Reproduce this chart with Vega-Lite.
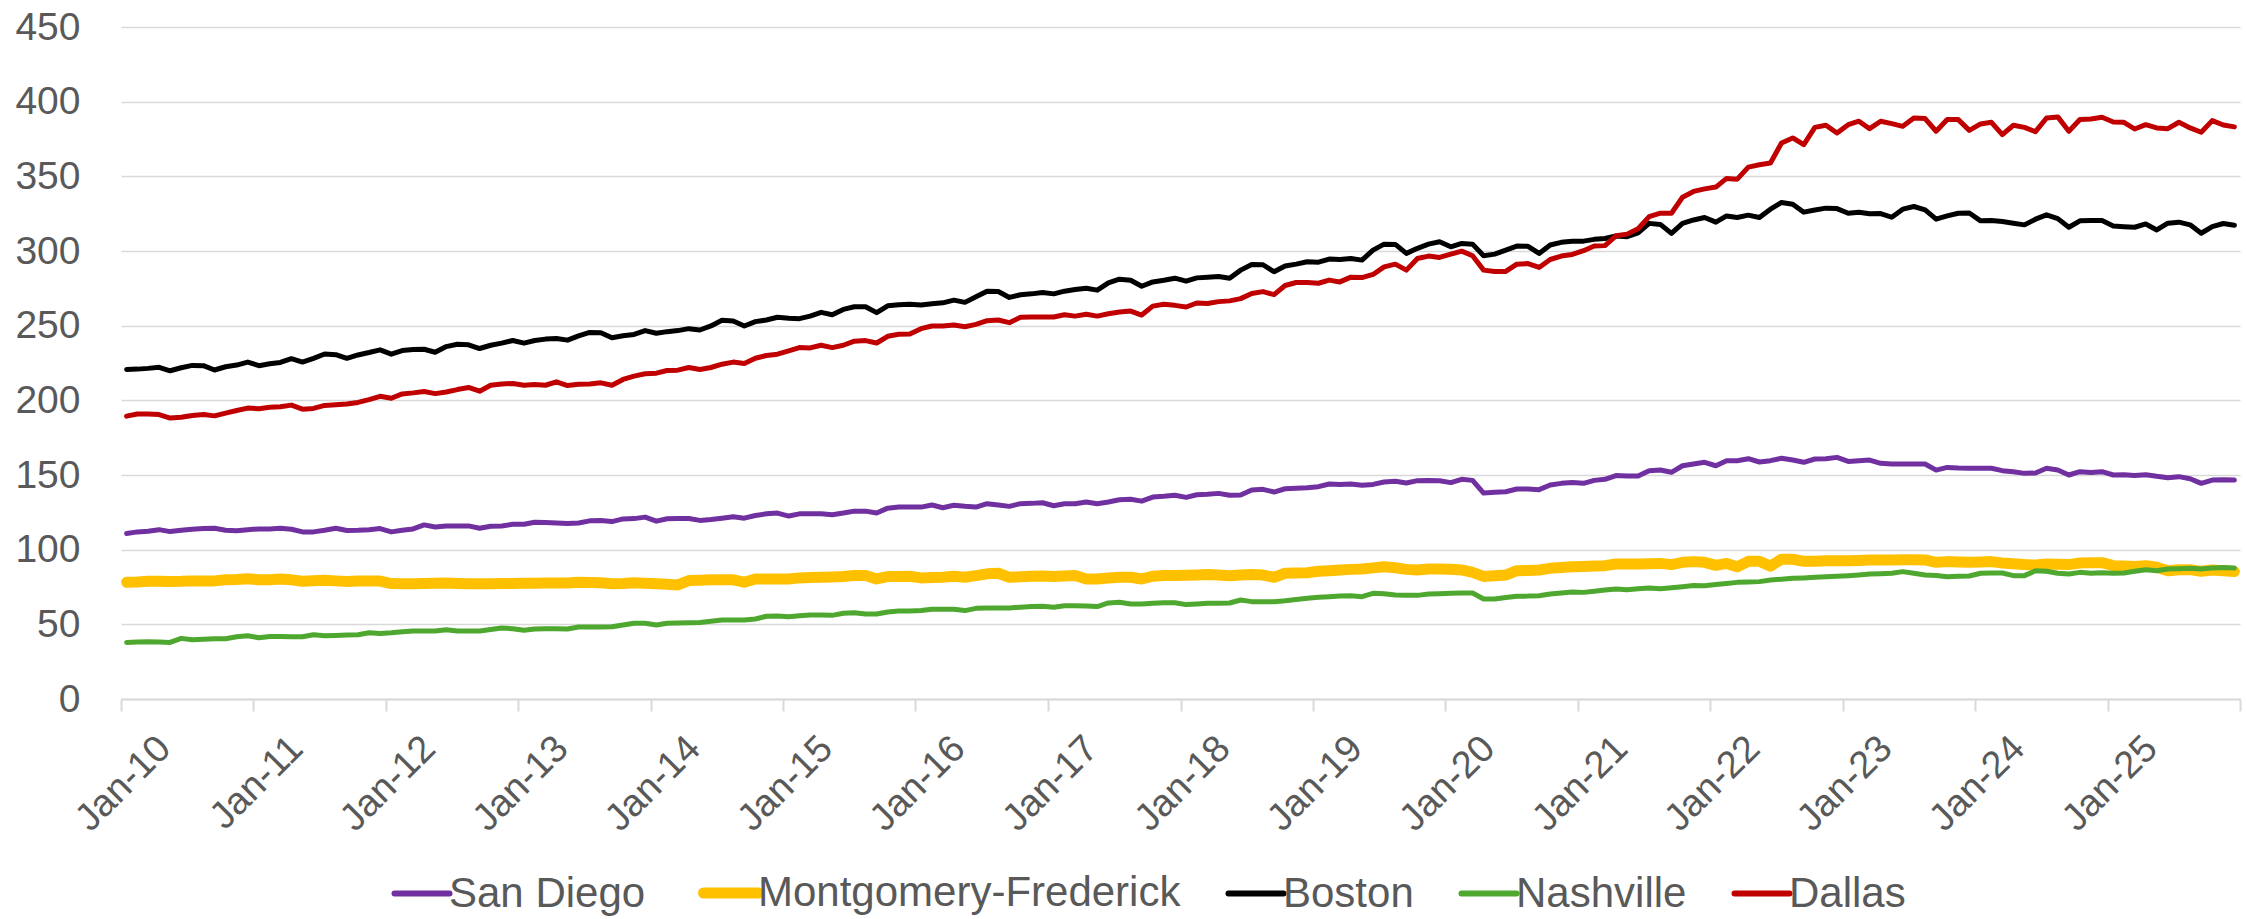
{
"$schema":"https://vega.github.io/schema/vega-lite/v6.json",
"width":2119,"height":672,
"autosize":{"type":"none"},
"padding":{"left":121,"top":27,"right":6,"bottom":220},
"background":"white",
"config":{"view":{"stroke":null},"font":"Liberation Sans"},
"datasets":{
"sd":[{"d":"2010-01","v":110.8},{"d":"2010-02","v":111.9},{"d":"2010-03","v":112.3},{"d":"2010-04","v":113.4},{"d":"2010-05","v":112.1},{"d":"2010-06","v":113},{"d":"2010-07","v":113.7},{"d":"2010-08","v":114.1},{"d":"2010-09","v":114.3},{"d":"2010-10","v":113},{"d":"2010-11","v":112.6},{"d":"2010-12","v":113.4},
{"d":"2011-01","v":113.9},{"d":"2011-02","v":113.9},{"d":"2011-03","v":114.3},{"d":"2011-04","v":113.7},{"d":"2011-05","v":111.9},{"d":"2011-06","v":111.9},{"d":"2011-07","v":113},{"d":"2011-08","v":114.3},{"d":"2011-09","v":112.8},{"d":"2011-10","v":113},{"d":"2011-11","v":113.4},{"d":"2011-12","v":114.1},
{"d":"2012-01","v":111.9},{"d":"2012-02","v":113},{"d":"2012-03","v":113.9},{"d":"2012-04","v":116.6},{"d":"2012-05","v":115.2},{"d":"2012-06","v":115.9},{"d":"2012-07","v":115.9},{"d":"2012-08","v":115.9},{"d":"2012-09","v":114.3},{"d":"2012-10","v":115.7},{"d":"2012-11","v":115.9},{"d":"2012-12","v":117},
{"d":"2013-01","v":117},{"d":"2013-02","v":118.4},{"d":"2013-03","v":118.2},{"d":"2013-04","v":117.9},{"d":"2013-05","v":117.5},{"d":"2013-06","v":117.9},{"d":"2013-07","v":119.3},{"d":"2013-08","v":119.5},{"d":"2013-09","v":118.8},{"d":"2013-10","v":120.6},{"d":"2013-11","v":120.8},{"d":"2013-12","v":121.8},
{"d":"2014-01","v":119.1},{"d":"2014-02","v":120.7},{"d":"2014-03","v":120.9},{"d":"2014-04","v":120.9},{"d":"2014-05","v":119.6},{"d":"2014-06","v":120.2},{"d":"2014-07","v":121.1},{"d":"2014-08","v":122},{"d":"2014-09","v":121.1},{"d":"2014-10","v":122.9},{"d":"2014-11","v":124},{"d":"2014-12","v":124.5},
{"d":"2015-01","v":122.5},{"d":"2015-02","v":124},{"d":"2015-03","v":124},{"d":"2015-04","v":124},{"d":"2015-05","v":123.4},{"d":"2015-06","v":124.5},{"d":"2015-07","v":125.8},{"d":"2015-08","v":125.8},{"d":"2015-09","v":124.5},{"d":"2015-10","v":127.8},{"d":"2015-11","v":128.5},{"d":"2015-12","v":128.5},
{"d":"2016-01","v":128.5},{"d":"2016-02","v":129.9},{"d":"2016-03","v":128.1},{"d":"2016-04","v":129.7},{"d":"2016-05","v":129},{"d":"2016-06","v":128.5},{"d":"2016-07","v":130.8},{"d":"2016-08","v":129.9},{"d":"2016-09","v":129},{"d":"2016-10","v":130.8},{"d":"2016-11","v":131},{"d":"2016-12","v":131.4},
{"d":"2017-01","v":129.4},{"d":"2017-02","v":130.8},{"d":"2017-03","v":130.8},{"d":"2017-04","v":131.9},{"d":"2017-05","v":130.8},{"d":"2017-06","v":131.9},{"d":"2017-07","v":133.4},{"d":"2017-08","v":133.7},{"d":"2017-09","v":132.5},{"d":"2017-10","v":135.2},{"d":"2017-11","v":135.7},{"d":"2017-12","v":136.4},
{"d":"2018-01","v":135},{"d":"2018-02","v":136.8},{"d":"2018-03","v":137.1},{"d":"2018-04","v":137.7},{"d":"2018-05","v":136.4},{"d":"2018-06","v":136.6},{"d":"2018-07","v":140},{"d":"2018-08","v":140.4},{"d":"2018-09","v":138.6},{"d":"2018-10","v":140.8},{"d":"2018-11","v":141.1},{"d":"2018-12","v":141.5},
{"d":"2019-01","v":142.2},{"d":"2019-02","v":144},{"d":"2019-03","v":143.7},{"d":"2019-04","v":144},{"d":"2019-05","v":143.1},{"d":"2019-06","v":143.7},{"d":"2019-07","v":145.3},{"d":"2019-08","v":145.8},{"d":"2019-09","v":144.6},{"d":"2019-10","v":146.2},{"d":"2019-11","v":146.4},{"d":"2019-12","v":146.2},
{"d":"2020-01","v":144.9},{"d":"2020-02","v":147.1},{"d":"2020-03","v":146.4},{"d":"2020-04","v":137.9},{"d":"2020-05","v":138.4},{"d":"2020-06","v":138.8},{"d":"2020-07","v":140.6},{"d":"2020-08","v":140.6},{"d":"2020-09","v":140.2},{"d":"2020-10","v":143.3},{"d":"2020-11","v":144.4},{"d":"2020-12","v":144.9},
{"d":"2021-01","v":144.4},{"d":"2021-02","v":146.4},{"d":"2021-03","v":147.1},{"d":"2021-04","v":149.6},{"d":"2021-05","v":149.3},{"d":"2021-06","v":149.3},{"d":"2021-07","v":152.9},{"d":"2021-08","v":153.3},{"d":"2021-09","v":151.8},{"d":"2021-10","v":156.2},{"d":"2021-11","v":157.4},{"d":"2021-12","v":158.5},
{"d":"2022-01","v":156.2},{"d":"2022-02","v":159.6},{"d":"2022-03","v":159.6},{"d":"2022-04","v":160.9},{"d":"2022-05","v":158.7},{"d":"2022-06","v":159.6},{"d":"2022-07","v":161.2},{"d":"2022-08","v":160},{"d":"2022-09","v":158.5},{"d":"2022-10","v":160.7},{"d":"2022-11","v":160.9},{"d":"2022-12","v":161.8},
{"d":"2023-01","v":159.1},{"d":"2023-02","v":159.6},{"d":"2023-03","v":160},{"d":"2023-04","v":157.8},{"d":"2023-05","v":157.4},{"d":"2023-06","v":157.4},{"d":"2023-07","v":157.4},{"d":"2023-08","v":157.4},{"d":"2023-09","v":153.3},{"d":"2023-10","v":155.1},{"d":"2023-11","v":154.7},{"d":"2023-12","v":154.5},
{"d":"2024-01","v":154.5},{"d":"2024-02","v":154.5},{"d":"2024-03","v":152.9},{"d":"2024-04","v":152.2},{"d":"2024-05","v":151.1},{"d":"2024-06","v":151.3},{"d":"2024-07","v":154.5},{"d":"2024-08","v":153.3},{"d":"2024-09","v":150},{"d":"2024-10","v":152.2},{"d":"2024-11","v":151.6},{"d":"2024-12","v":152.2},
{"d":"2025-01","v":150},{"d":"2025-02","v":150.2},{"d":"2025-03","v":149.6},{"d":"2025-04","v":150.2},{"d":"2025-05","v":149.1},{"d":"2025-06","v":148.2},{"d":"2025-07","v":148.9},{"d":"2025-08","v":147.5},{"d":"2025-09","v":144.4},{"d":"2025-10","v":146.6},{"d":"2025-11","v":146.9},{"d":"2025-12","v":146.6}],
"mf":[{"d":"2010-01","v":78.2},{"d":"2010-02","v":78.4},{"d":"2010-03","v":78.9},{"d":"2010-04","v":78.9},{"d":"2010-05","v":78.7},{"d":"2010-06","v":78.8},{"d":"2010-07","v":79.1},{"d":"2010-08","v":79.1},{"d":"2010-09","v":79.1},{"d":"2010-10","v":79.8},{"d":"2010-11","v":80},{"d":"2010-12","v":80.5},
{"d":"2011-01","v":79.8},{"d":"2011-02","v":79.9},{"d":"2011-03","v":80.3},{"d":"2011-04","v":79.8},{"d":"2011-05","v":78.8},{"d":"2011-06","v":79.2},{"d":"2011-07","v":79.5},{"d":"2011-08","v":79.1},{"d":"2011-09","v":78.7},{"d":"2011-10","v":79},{"d":"2011-11","v":79},{"d":"2011-12","v":79},
{"d":"2012-01","v":77.3},{"d":"2012-02","v":77.1},{"d":"2012-03","v":77.2},{"d":"2012-04","v":77.3},{"d":"2012-05","v":77.5},{"d":"2012-06","v":77.6},{"d":"2012-07","v":77.4},{"d":"2012-08","v":77.2},{"d":"2012-09","v":77.1},{"d":"2012-10","v":77.2},{"d":"2012-11","v":77.3},{"d":"2012-12","v":77.4},
{"d":"2013-01","v":77.5},{"d":"2013-02","v":77.5},{"d":"2013-03","v":77.6},{"d":"2013-04","v":77.6},{"d":"2013-05","v":77.7},{"d":"2013-06","v":78.2},{"d":"2013-07","v":78},{"d":"2013-08","v":77.8},{"d":"2013-09","v":77.2},{"d":"2013-10","v":77.4},{"d":"2013-11","v":77.8},{"d":"2013-12","v":77.5},
{"d":"2014-01","v":77.1},{"d":"2014-02","v":76.8},{"d":"2014-03","v":76.4},{"d":"2014-04","v":79.3},{"d":"2014-05","v":79.5},{"d":"2014-06","v":79.8},{"d":"2014-07","v":79.8},{"d":"2014-08","v":79.8},{"d":"2014-09","v":78.2},{"d":"2014-10","v":80.4},{"d":"2014-11","v":80.4},{"d":"2014-12","v":80.4},
{"d":"2015-01","v":80.4},{"d":"2015-02","v":81.1},{"d":"2015-03","v":81.3},{"d":"2015-04","v":81.5},{"d":"2015-05","v":81.7},{"d":"2015-06","v":82},{"d":"2015-07","v":82.7},{"d":"2015-08","v":82.7},{"d":"2015-09","v":80.4},{"d":"2015-10","v":82},{"d":"2015-11","v":82.1},{"d":"2015-12","v":82.2},
{"d":"2016-01","v":81.1},{"d":"2016-02","v":81.3},{"d":"2016-03","v":81.5},{"d":"2016-04","v":82.2},{"d":"2016-05","v":81.5},{"d":"2016-06","v":82.6},{"d":"2016-07","v":83.8},{"d":"2016-08","v":84.2},{"d":"2016-09","v":81.5},{"d":"2016-10","v":81.8},{"d":"2016-11","v":82.2},{"d":"2016-12","v":82.4},
{"d":"2017-01","v":82},{"d":"2017-02","v":82.3},{"d":"2017-03","v":82.7},{"d":"2017-04","v":80.4},{"d":"2017-05","v":80.4},{"d":"2017-06","v":81},{"d":"2017-07","v":81.5},{"d":"2017-08","v":81.5},{"d":"2017-09","v":80.4},{"d":"2017-10","v":82.2},{"d":"2017-11","v":82.7},{"d":"2017-12","v":82.7},
{"d":"2018-01","v":82.8},{"d":"2018-02","v":83},{"d":"2018-03","v":83.3},{"d":"2018-04","v":83},{"d":"2018-05","v":82.6},{"d":"2018-06","v":83},{"d":"2018-07","v":83.3},{"d":"2018-08","v":83},{"d":"2018-09","v":81.5},{"d":"2018-10","v":84.2},{"d":"2018-11","v":84.4},{"d":"2018-12","v":84.6},
{"d":"2019-01","v":85.5},{"d":"2019-02","v":85.9},{"d":"2019-03","v":86.4},{"d":"2019-04","v":86.8},{"d":"2019-05","v":87.1},{"d":"2019-06","v":87.8},{"d":"2019-07","v":88.6},{"d":"2019-08","v":87.9},{"d":"2019-09","v":86.8},{"d":"2019-10","v":86.4},{"d":"2019-11","v":87.1},{"d":"2019-12","v":87},
{"d":"2020-01","v":86.9},{"d":"2020-02","v":86.4},{"d":"2020-03","v":84.8},{"d":"2020-04","v":82.1},{"d":"2020-05","v":82.6},{"d":"2020-06","v":83},{"d":"2020-07","v":85.9},{"d":"2020-08","v":86.1},{"d":"2020-09","v":86.4},{"d":"2020-10","v":87.5},{"d":"2020-11","v":88},{"d":"2020-12","v":88.6},
{"d":"2021-01","v":88.8},{"d":"2021-02","v":89},{"d":"2021-03","v":89.3},{"d":"2021-04","v":90.4},{"d":"2021-05","v":90.4},{"d":"2021-06","v":90.4},{"d":"2021-07","v":90.6},{"d":"2021-08","v":90.8},{"d":"2021-09","v":90},{"d":"2021-10","v":91.5},{"d":"2021-11","v":92},{"d":"2021-12","v":91.5},
{"d":"2022-01","v":89.5},{"d":"2022-02","v":90.8},{"d":"2022-03","v":88.5},{"d":"2022-04","v":92.2},{"d":"2022-05","v":92.2},{"d":"2022-06","v":89},{"d":"2022-07","v":93.6},{"d":"2022-08","v":93.6},{"d":"2022-09","v":92.2},{"d":"2022-10","v":92.2},{"d":"2022-11","v":92.6},{"d":"2022-12","v":92.6},
{"d":"2023-01","v":92.6},{"d":"2023-02","v":92.8},{"d":"2023-03","v":93.1},{"d":"2023-04","v":93.1},{"d":"2023-05","v":93.1},{"d":"2023-06","v":93.2},{"d":"2023-07","v":93.3},{"d":"2023-08","v":93.1},{"d":"2023-09","v":91.5},{"d":"2023-10","v":92},{"d":"2023-11","v":91.8},{"d":"2023-12","v":91.5},
{"d":"2024-01","v":91.7},{"d":"2024-02","v":92},{"d":"2024-03","v":91.1},{"d":"2024-04","v":90.6},{"d":"2024-05","v":90},{"d":"2024-06","v":89.7},{"d":"2024-07","v":90.4},{"d":"2024-08","v":90.2},{"d":"2024-09","v":90},{"d":"2024-10","v":91.1},{"d":"2024-11","v":91.2},{"d":"2024-12","v":91.3},
{"d":"2025-01","v":89.3},{"d":"2025-02","v":89},{"d":"2025-03","v":88.8},{"d":"2025-04","v":89.3},{"d":"2025-05","v":88.2},{"d":"2025-06","v":85.9},{"d":"2025-07","v":86.6},{"d":"2025-08","v":86.6},{"d":"2025-09","v":85.5},{"d":"2025-10","v":86.4},{"d":"2025-11","v":85.9},{"d":"2025-12","v":85.3}],
"bo":[{"d":"2010-01","v":220.7},{"d":"2010-02","v":220.9},{"d":"2010-03","v":221.4},{"d":"2010-04","v":222.1},{"d":"2010-05","v":219.8},{"d":"2010-06","v":221.8},{"d":"2010-07","v":223.4},{"d":"2010-08","v":223.2},{"d":"2010-09","v":220.3},{"d":"2010-10","v":222.5},{"d":"2010-11","v":223.6},{"d":"2010-12","v":225.6},
{"d":"2011-01","v":223.2},{"d":"2011-02","v":224.5},{"d":"2011-03","v":225.4},{"d":"2011-04","v":227.9},{"d":"2011-05","v":225.6},{"d":"2011-06","v":228.1},{"d":"2011-07","v":231},{"d":"2011-08","v":230.6},{"d":"2011-09","v":228.1},{"d":"2011-10","v":230.4},{"d":"2011-11","v":232},{"d":"2011-12","v":233.8},
{"d":"2012-01","v":230.9},{"d":"2012-02","v":233.3},{"d":"2012-03","v":234},{"d":"2012-04","v":234.2},{"d":"2012-05","v":232.2},{"d":"2012-06","v":236},{"d":"2012-07","v":237.6},{"d":"2012-08","v":237.2},{"d":"2012-09","v":234.7},{"d":"2012-10","v":236.9},{"d":"2012-11","v":238.3},{"d":"2012-12","v":240.1},
{"d":"2013-01","v":238.3},{"d":"2013-02","v":240.1},{"d":"2013-03","v":241},{"d":"2013-04","v":241.4},{"d":"2013-05","v":240.3},{"d":"2013-06","v":243.2},{"d":"2013-07","v":245.5},{"d":"2013-08","v":245.3},{"d":"2013-09","v":241.9},{"d":"2013-10","v":243.2},{"d":"2013-11","v":244.1},{"d":"2013-12","v":246.7},
{"d":"2014-01","v":244.9},{"d":"2014-02","v":246},{"d":"2014-03","v":246.7},{"d":"2014-04","v":248},{"d":"2014-05","v":247.1},{"d":"2014-06","v":249.8},{"d":"2014-07","v":253.6},{"d":"2014-08","v":253.1},{"d":"2014-09","v":249.8},{"d":"2014-10","v":252.7},{"d":"2014-11","v":253.8},{"d":"2014-12","v":255.6},
{"d":"2015-01","v":254.9},{"d":"2015-02","v":254.7},{"d":"2015-03","v":256.4},{"d":"2015-04","v":258.9},{"d":"2015-05","v":257.3},{"d":"2015-06","v":260.9},{"d":"2015-07","v":262.7},{"d":"2015-08","v":262.7},{"d":"2015-09","v":258.7},{"d":"2015-10","v":263.3},{"d":"2015-11","v":264},{"d":"2015-12","v":264.4},
{"d":"2016-01","v":263.8},{"d":"2016-02","v":264.7},{"d":"2016-03","v":265.3},{"d":"2016-04","v":267.1},{"d":"2016-05","v":265.6},{"d":"2016-06","v":269.3},{"d":"2016-07","v":273.1},{"d":"2016-08","v":272.9},{"d":"2016-09","v":268.9},{"d":"2016-10","v":270.7},{"d":"2016-11","v":271.3},{"d":"2016-12","v":272.2},
{"d":"2017-01","v":271.3},{"d":"2017-02","v":273.1},{"d":"2017-03","v":274.2},{"d":"2017-04","v":275.1},{"d":"2017-05","v":273.8},{"d":"2017-06","v":278.7},{"d":"2017-07","v":281.1},{"d":"2017-08","v":280.4},{"d":"2017-09","v":276.4},{"d":"2017-10","v":279.3},{"d":"2017-11","v":280.4},{"d":"2017-12","v":281.8},
{"d":"2018-01","v":279.8},{"d":"2018-02","v":282},{"d":"2018-03","v":282.5},{"d":"2018-04","v":282.9},{"d":"2018-05","v":281.8},{"d":"2018-06","v":287.2},{"d":"2018-07","v":291},{"d":"2018-08","v":290.8},{"d":"2018-09","v":286.1},{"d":"2018-10","v":289.9},{"d":"2018-11","v":291.2},{"d":"2018-12","v":292.8},
{"d":"2019-01","v":292.5},{"d":"2019-02","v":294.6},{"d":"2019-03","v":294.3},{"d":"2019-04","v":295},{"d":"2019-05","v":293.9},{"d":"2019-06","v":300.6},{"d":"2019-07","v":304.6},{"d":"2019-08","v":304.4},{"d":"2019-09","v":298.4},{"d":"2019-10","v":301.8},{"d":"2019-11","v":304.6},{"d":"2019-12","v":306.2},
{"d":"2020-01","v":302.8},{"d":"2020-02","v":305.1},{"d":"2020-03","v":304.6},{"d":"2020-04","v":296.8},{"d":"2020-05","v":297.9},{"d":"2020-06","v":300.6},{"d":"2020-07","v":303.3},{"d":"2020-08","v":303.1},{"d":"2020-09","v":298.4},{"d":"2020-10","v":304},{"d":"2020-11","v":305.8},{"d":"2020-12","v":306.6},
{"d":"2021-01","v":306.6},{"d":"2021-02","v":307.8},{"d":"2021-03","v":308.4},{"d":"2021-04","v":310},{"d":"2021-05","v":309.6},{"d":"2021-06","v":312.2},{"d":"2021-07","v":318.5},{"d":"2021-08","v":317.8},{"d":"2021-09","v":311.8},{"d":"2021-10","v":318.5},{"d":"2021-11","v":320.8},{"d":"2021-12","v":322.4},
{"d":"2022-01","v":319.3},{"d":"2022-02","v":323.5},{"d":"2022-03","v":322.4},{"d":"2022-04","v":324},{"d":"2022-05","v":322.4},{"d":"2022-06","v":328},{"d":"2022-07","v":332.5},{"d":"2022-08","v":331.3},{"d":"2022-09","v":326},{"d":"2022-10","v":327.5},{"d":"2022-11","v":328.7},{"d":"2022-12","v":328.4},
{"d":"2023-01","v":325.3},{"d":"2023-02","v":326},{"d":"2023-03","v":324.9},{"d":"2023-04","v":325.1},{"d":"2023-05","v":322.6},{"d":"2023-06","v":328},{"d":"2023-07","v":329.8},{"d":"2023-08","v":327.5},{"d":"2023-09","v":321.3},{"d":"2023-10","v":323.5},{"d":"2023-11","v":325.3},{"d":"2023-12","v":325.5},
{"d":"2024-01","v":320.2},{"d":"2024-02","v":320.4},{"d":"2024-03","v":319.7},{"d":"2024-04","v":318.6},{"d":"2024-05","v":317.5},{"d":"2024-06","v":321.3},{"d":"2024-07","v":324.2},{"d":"2024-08","v":321.7},{"d":"2024-09","v":315.9},{"d":"2024-10","v":320.2},{"d":"2024-11","v":320.4},{"d":"2024-12","v":320.4},
{"d":"2025-01","v":316.8},{"d":"2025-02","v":316.3},{"d":"2025-03","v":315.9},{"d":"2025-04","v":318.1},{"d":"2025-05","v":314.1},{"d":"2025-06","v":318.6},{"d":"2025-07","v":319.3},{"d":"2025-08","v":317.5},{"d":"2025-09","v":311.9},{"d":"2025-10","v":316.3},{"d":"2025-11","v":318.4},{"d":"2025-12","v":317.2}],
"na":[{"d":"2010-01","v":37.9},{"d":"2010-02","v":38.1},{"d":"2010-03","v":38.3},{"d":"2010-04","v":38.1},{"d":"2010-05","v":37.9},{"d":"2010-06","v":40.6},{"d":"2010-07","v":39.7},{"d":"2010-08","v":40},{"d":"2010-09","v":40.4},{"d":"2010-10","v":40.4},{"d":"2010-11","v":41.7},{"d":"2010-12","v":42.4},
{"d":"2011-01","v":41},{"d":"2011-02","v":41.9},{"d":"2011-03","v":41.8},{"d":"2011-04","v":41.7},{"d":"2011-05","v":41.7},{"d":"2011-06","v":43},{"d":"2011-07","v":42.4},{"d":"2011-08","v":42.6},{"d":"2011-09","v":42.8},{"d":"2011-10","v":43},{"d":"2011-11","v":44.4},{"d":"2011-12","v":43.9},
{"d":"2012-01","v":44.4},{"d":"2012-02","v":45.1},{"d":"2012-03","v":45.5},{"d":"2012-04","v":45.5},{"d":"2012-05","v":45.5},{"d":"2012-06","v":46.4},{"d":"2012-07","v":45.5},{"d":"2012-08","v":45.5},{"d":"2012-09","v":45.5},{"d":"2012-10","v":46.5},{"d":"2012-11","v":47.5},{"d":"2012-12","v":47.1},
{"d":"2013-01","v":46},{"d":"2013-02","v":46.9},{"d":"2013-03","v":47},{"d":"2013-04","v":47.1},{"d":"2013-05","v":46.9},{"d":"2013-06","v":48.2},{"d":"2013-07","v":48.2},{"d":"2013-08","v":48.2},{"d":"2013-09","v":48.4},{"d":"2013-10","v":49.6},{"d":"2013-11","v":50.7},{"d":"2013-12","v":50.7},
{"d":"2014-01","v":49.6},{"d":"2014-02","v":50.7},{"d":"2014-03","v":50.9},{"d":"2014-04","v":51.1},{"d":"2014-05","v":51.3},{"d":"2014-06","v":52.1},{"d":"2014-07","v":52.9},{"d":"2014-08","v":52.9},{"d":"2014-09","v":52.9},{"d":"2014-10","v":53.6},{"d":"2014-11","v":55.4},{"d":"2014-12","v":55.6},
{"d":"2015-01","v":55.1},{"d":"2015-02","v":55.7},{"d":"2015-03","v":56.3},{"d":"2015-04","v":56.2},{"d":"2015-05","v":56},{"d":"2015-06","v":57.4},{"d":"2015-07","v":57.8},{"d":"2015-08","v":56.9},{"d":"2015-09","v":56.9},{"d":"2015-10","v":58.3},{"d":"2015-11","v":58.9},{"d":"2015-12","v":59},
{"d":"2016-01","v":59.2},{"d":"2016-02","v":60.1},{"d":"2016-03","v":60.1},{"d":"2016-04","v":60.1},{"d":"2016-05","v":59.2},{"d":"2016-06","v":60.7},{"d":"2016-07","v":61},{"d":"2016-08","v":61},{"d":"2016-09","v":61},{"d":"2016-10","v":61.5},{"d":"2016-11","v":61.9},{"d":"2016-12","v":62.1},
{"d":"2017-01","v":61.4},{"d":"2017-02","v":62.5},{"d":"2017-03","v":62.4},{"d":"2017-04","v":62.3},{"d":"2017-05","v":61.9},{"d":"2017-06","v":64.3},{"d":"2017-07","v":64.8},{"d":"2017-08","v":63.6},{"d":"2017-09","v":63.6},{"d":"2017-10","v":64.1},{"d":"2017-11","v":64.5},{"d":"2017-12","v":64.5},
{"d":"2018-01","v":63.2},{"d":"2018-02","v":63.6},{"d":"2018-03","v":64.1},{"d":"2018-04","v":64.2},{"d":"2018-05","v":64.3},{"d":"2018-06","v":66.3},{"d":"2018-07","v":65.2},{"d":"2018-08","v":65.2},{"d":"2018-09","v":65.2},{"d":"2018-10","v":65.8},{"d":"2018-11","v":66.6},{"d":"2018-12","v":67.4},
{"d":"2019-01","v":68.1},{"d":"2019-02","v":68.5},{"d":"2019-03","v":69},{"d":"2019-04","v":69.2},{"d":"2019-05","v":68.5},{"d":"2019-06","v":70.8},{"d":"2019-07","v":70.5},{"d":"2019-08","v":69.6},{"d":"2019-09","v":69.5},{"d":"2019-10","v":69.4},{"d":"2019-11","v":70.3},{"d":"2019-12","v":70.5},
{"d":"2020-01","v":70.8},{"d":"2020-02","v":71},{"d":"2020-03","v":71},{"d":"2020-04","v":67},{"d":"2020-05","v":67},{"d":"2020-06","v":67.9},{"d":"2020-07","v":68.8},{"d":"2020-08","v":68.9},{"d":"2020-09","v":69.2},{"d":"2020-10","v":70.3},{"d":"2020-11","v":71},{"d":"2020-12","v":71.7},
{"d":"2021-01","v":71.4},{"d":"2021-02","v":72.2},{"d":"2021-03","v":73},{"d":"2021-04","v":73.7},{"d":"2021-05","v":73.2},{"d":"2021-06","v":73.8},{"d":"2021-07","v":74.3},{"d":"2021-08","v":73.9},{"d":"2021-09","v":74.5},{"d":"2021-10","v":75.2},{"d":"2021-11","v":76},{"d":"2021-12","v":75.9},
{"d":"2022-01","v":76.6},{"d":"2022-02","v":77.3},{"d":"2022-03","v":78.1},{"d":"2022-04","v":78.3},{"d":"2022-05","v":78.6},{"d":"2022-06","v":79.7},{"d":"2022-07","v":80.2},{"d":"2022-08","v":80.8},{"d":"2022-09","v":81.1},{"d":"2022-10","v":81.5},{"d":"2022-11","v":81.9},{"d":"2022-12","v":82.2},
{"d":"2023-01","v":82.6},{"d":"2023-02","v":83.1},{"d":"2023-03","v":83.7},{"d":"2023-04","v":83.9},{"d":"2023-05","v":84.2},{"d":"2023-06","v":85.3},{"d":"2023-07","v":84.2},{"d":"2023-08","v":83},{"d":"2023-09","v":82.7},{"d":"2023-10","v":81.9},{"d":"2023-11","v":82.2},{"d":"2023-12","v":82.4},
{"d":"2024-01","v":84.2},{"d":"2024-02","v":84.3},{"d":"2024-03","v":84.4},{"d":"2024-04","v":82.6},{"d":"2024-05","v":82.6},{"d":"2024-06","v":85.9},{"d":"2024-07","v":85.5},{"d":"2024-08","v":84.2},{"d":"2024-09","v":83.7},{"d":"2024-10","v":84.8},{"d":"2024-11","v":84.2},{"d":"2024-12","v":84.6},
{"d":"2025-01","v":84.2},{"d":"2025-02","v":84.4},{"d":"2025-03","v":85.5},{"d":"2025-04","v":86.6},{"d":"2025-05","v":85.9},{"d":"2025-06","v":87.1},{"d":"2025-07","v":87.3},{"d":"2025-08","v":87.5},{"d":"2025-09","v":87.1},{"d":"2025-10","v":87.7},{"d":"2025-11","v":88},{"d":"2025-12","v":87.7}],
"da":[{"d":"2010-01","v":189.4},{"d":"2010-02","v":190.8},{"d":"2010-03","v":190.8},{"d":"2010-04","v":190.5},{"d":"2010-05","v":188.1},{"d":"2010-06","v":188.7},{"d":"2010-07","v":189.9},{"d":"2010-08","v":190.5},{"d":"2010-09","v":189.6},{"d":"2010-10","v":191.4},{"d":"2010-11","v":193.2},{"d":"2010-12","v":194.8},
{"d":"2011-01","v":194.4},{"d":"2011-02","v":195.3},{"d":"2011-03","v":195.7},{"d":"2011-04","v":196.8},{"d":"2011-05","v":194.1},{"d":"2011-06","v":194.6},{"d":"2011-07","v":196.6},{"d":"2011-08","v":197.1},{"d":"2011-09","v":197.5},{"d":"2011-10","v":198.6},{"d":"2011-11","v":200.5},{"d":"2011-12","v":202.7},
{"d":"2012-01","v":201.4},{"d":"2012-02","v":204.3},{"d":"2012-03","v":205},{"d":"2012-04","v":205.9},{"d":"2012-05","v":204.5},{"d":"2012-06","v":205.6},{"d":"2012-07","v":207.2},{"d":"2012-08","v":208.6},{"d":"2012-09","v":206.1},{"d":"2012-10","v":210.1},{"d":"2012-11","v":211},{"d":"2012-12","v":211.3},
{"d":"2013-01","v":210.1},{"d":"2013-02","v":210.6},{"d":"2013-03","v":210.1},{"d":"2013-04","v":212.4},{"d":"2013-05","v":209.9},{"d":"2013-06","v":210.8},{"d":"2013-07","v":211},{"d":"2013-08","v":211.7},{"d":"2013-09","v":210.1},{"d":"2013-10","v":214},{"d":"2013-11","v":216.2},{"d":"2013-12","v":217.8},
{"d":"2014-01","v":218.2},{"d":"2014-02","v":220},{"d":"2014-03","v":220.2},{"d":"2014-04","v":222},{"d":"2014-05","v":220.7},{"d":"2014-06","v":222},{"d":"2014-07","v":224.2},{"d":"2014-08","v":225.6},{"d":"2014-09","v":224.7},{"d":"2014-10","v":228.2},{"d":"2014-11","v":230},{"d":"2014-12","v":230.9},
{"d":"2015-01","v":233.1},{"d":"2015-02","v":235.3},{"d":"2015-03","v":235.1},{"d":"2015-04","v":236.9},{"d":"2015-05","v":235.3},{"d":"2015-06","v":236.9},{"d":"2015-07","v":239.6},{"d":"2015-08","v":240},{"d":"2015-09","v":238.4},{"d":"2015-10","v":242.9},{"d":"2015-11","v":244.2},{"d":"2015-12","v":244.4},
{"d":"2016-01","v":248},{"d":"2016-02","v":249.8},{"d":"2016-03","v":249.8},{"d":"2016-04","v":250.4},{"d":"2016-05","v":249.3},{"d":"2016-06","v":250.9},{"d":"2016-07","v":253.3},{"d":"2016-08","v":253.8},{"d":"2016-09","v":252},{"d":"2016-10","v":255.6},{"d":"2016-11","v":255.8},{"d":"2016-12","v":255.8},
{"d":"2017-01","v":255.8},{"d":"2017-02","v":257.3},{"d":"2017-03","v":256.4},{"d":"2017-04","v":257.6},{"d":"2017-05","v":256.4},{"d":"2017-06","v":258},{"d":"2017-07","v":259.1},{"d":"2017-08","v":259.8},{"d":"2017-09","v":257.1},{"d":"2017-10","v":263.1},{"d":"2017-11","v":264.4},{"d":"2017-12","v":263.6},
{"d":"2018-01","v":262.5},{"d":"2018-02","v":265.2},{"d":"2018-03","v":264.8},{"d":"2018-04","v":266.1},{"d":"2018-05","v":266.6},{"d":"2018-06","v":268.1},{"d":"2018-07","v":271.5},{"d":"2018-08","v":272.8},{"d":"2018-09","v":270.8},{"d":"2018-10","v":276.9},{"d":"2018-11","v":278.9},{"d":"2018-12","v":278.9},
{"d":"2019-01","v":278.4},{"d":"2019-02","v":280.5},{"d":"2019-03","v":279.3},{"d":"2019-04","v":282.5},{"d":"2019-05","v":282.2},{"d":"2019-06","v":284.3},{"d":"2019-07","v":289.4},{"d":"2019-08","v":291.2},{"d":"2019-09","v":287.2},{"d":"2019-10","v":295},{"d":"2019-11","v":296.6},{"d":"2019-12","v":295.7},
{"d":"2020-01","v":297.9},{"d":"2020-02","v":299.9},{"d":"2020-03","v":296.8},{"d":"2020-04","v":287.2},{"d":"2020-05","v":286.3},{"d":"2020-06","v":286.3},{"d":"2020-07","v":291.2},{"d":"2020-08","v":291.6},{"d":"2020-09","v":289},{"d":"2020-10","v":294.3},{"d":"2020-11","v":296.6},{"d":"2020-12","v":297.7},
{"d":"2021-01","v":300.2},{"d":"2021-02","v":303.3},{"d":"2021-03","v":303.6},{"d":"2021-04","v":310.2},{"d":"2021-05","v":311.3},{"d":"2021-06","v":314.9},{"d":"2021-07","v":323},{"d":"2021-08","v":325.3},{"d":"2021-09","v":325.3},{"d":"2021-10","v":336},{"d":"2021-11","v":339.9},{"d":"2021-12","v":341.6},
{"d":"2022-01","v":342.8},{"d":"2022-02","v":348.6},{"d":"2022-03","v":348.1},{"d":"2022-04","v":356.2},{"d":"2022-05","v":357.8},{"d":"2022-06","v":358.9},{"d":"2022-07","v":372.3},{"d":"2022-08","v":375.7},{"d":"2022-09","v":371.2},{"d":"2022-10","v":382.8},{"d":"2022-11","v":384.2},{"d":"2022-12","v":379},
{"d":"2023-01","v":384.6},{"d":"2023-02","v":386.9},{"d":"2023-03","v":381.9},{"d":"2023-04","v":386.9},{"d":"2023-05","v":385.3},{"d":"2023-06","v":383.5},{"d":"2023-07","v":389.1},{"d":"2023-08","v":388.7},{"d":"2023-09","v":380.2},{"d":"2023-10","v":388},{"d":"2023-11","v":388},{"d":"2023-12","v":380.8},
{"d":"2024-01","v":385.1},{"d":"2024-02","v":386.2},{"d":"2024-03","v":377.9},{"d":"2024-04","v":384.2},{"d":"2024-05","v":382.8},{"d":"2024-06","v":379.9},{"d":"2024-07","v":389.1},{"d":"2024-08","v":389.8},{"d":"2024-09","v":380.2},{"d":"2024-10","v":388},{"d":"2024-11","v":388.4},{"d":"2024-12","v":389.6},
{"d":"2025-01","v":386.4},{"d":"2025-02","v":386.2},{"d":"2025-03","v":381.7},{"d":"2025-04","v":384.6},{"d":"2025-05","v":382.4},{"d":"2025-06","v":381.9},{"d":"2025-07","v":386.2},{"d":"2025-08","v":382.4},{"d":"2025-09","v":379.5},{"d":"2025-10","v":387.3},{"d":"2025-11","v":384.4},{"d":"2025-12","v":383.1}]
},
"encoding":{
"x":{"field":"d","timeUnit":"utcyearmonth","type":"temporal","bandPosition":0.5,
"scale":{"domain":[{"year":2010,"month":1,"date":1,"utc":true},{"year":2026,"month":1,"date":1,"utc":true}]},
"axis":{"title":null,"values":[{"year":2010,"month":1,"date":1,"utc":true},{"year":2011,"month":1,"date":1,"utc":true},{"year":2012,"month":1,"date":1,"utc":true},{"year":2013,"month":1,"date":1,"utc":true},{"year":2014,"month":1,"date":1,"utc":true},{"year":2015,"month":1,"date":1,"utc":true},{"year":2016,"month":1,"date":1,"utc":true},{"year":2017,"month":1,"date":1,"utc":true},{"year":2018,"month":1,"date":1,"utc":true},{"year":2019,"month":1,"date":1,"utc":true},{"year":2020,"month":1,"date":1,"utc":true},{"year":2021,"month":1,"date":1,"utc":true},{"year":2022,"month":1,"date":1,"utc":true},{"year":2023,"month":1,"date":1,"utc":true},{"year":2024,"month":1,"date":1,"utc":true},{"year":2025,"month":1,"date":1,"utc":true},{"year":2026,"month":1,"date":1,"utc":true}],
"labelExpr":"utcyear(datum.value) > 2025 ? '' : utcFormat(datum.value, '%b-%y')",
"labelAngle":-45,"labelFont":"Liberation Sans","labelFontSize":38,"labelColor":"#595959","labelPadding":18,"labelOffset":30,"labelOverlap":false,"labelBound":false,"labelFlush":false,
"domainColor":"#d9d9d9","domainWidth":2,"tickColor":"#d9d9d9","tickWidth":2,"tickSize":12,"grid":false}},
"y":{"field":"v","type":"quantitative","scale":{"domain":[0,450],"nice":false,"zero":true},
"axis":{"title":null,"values":[0,50,100,150,200,250,300,350,400,450],"grid":true,"gridColor":"#d9d9d9","gridWidth":1.5,"domain":false,"ticks":false,"labelPadding":41,"labelFont":"Liberation Sans","labelFontSize":39,"labelColor":"#595959"}}
},
"layer":[
{"data":{"name":"sd"},"mark":{"type":"line","strokeWidth":5,"strokeCap":"round","strokeJoin":"round"},
"encoding":{"color":{"datum":"San Diego","type":"nominal","scale":{"domain":["San Diego","Montgomery-Frederick","Boston","Nashville","Dallas"],"range":["#7030A0","#FFC000","#000000","#4EA72E","#C00000"]},
"legend":{"title":null,"orient":"none","legendX":280,"legendY":845,"direction":"horizontal","symbolType":"stroke","symbolSize":3025,"symbolStrokeWidth":6,"labelFont":"Liberation Sans","labelFontSize":42,"labelColor":"#595959","columnPadding":35,"labelOffset":6,"labelLimit":0,
"encode":{"symbols":{"update":{"strokeWidth":{"signal":"datum.value === 'Montgomery-Frederick' ? 11 : 6"},"strokeCap":{"value":"round"}}}}}}}},
{"data":{"name":"mf"},"mark":{"type":"line","strokeWidth":11,"strokeCap":"round","strokeJoin":"round"},"encoding":{"color":{"datum":"Montgomery-Frederick","type":"nominal"}}},
{"data":{"name":"bo"},"mark":{"type":"line","strokeWidth":5,"strokeCap":"round","strokeJoin":"round"},"encoding":{"color":{"datum":"Boston","type":"nominal"}}},
{"data":{"name":"na"},"mark":{"type":"line","strokeWidth":5,"strokeCap":"round","strokeJoin":"round"},"encoding":{"color":{"datum":"Nashville","type":"nominal"}}},
{"data":{"name":"da"},"mark":{"type":"line","strokeWidth":5,"strokeCap":"round","strokeJoin":"round"},"encoding":{"color":{"datum":"Dallas","type":"nominal"}}}
]
}
